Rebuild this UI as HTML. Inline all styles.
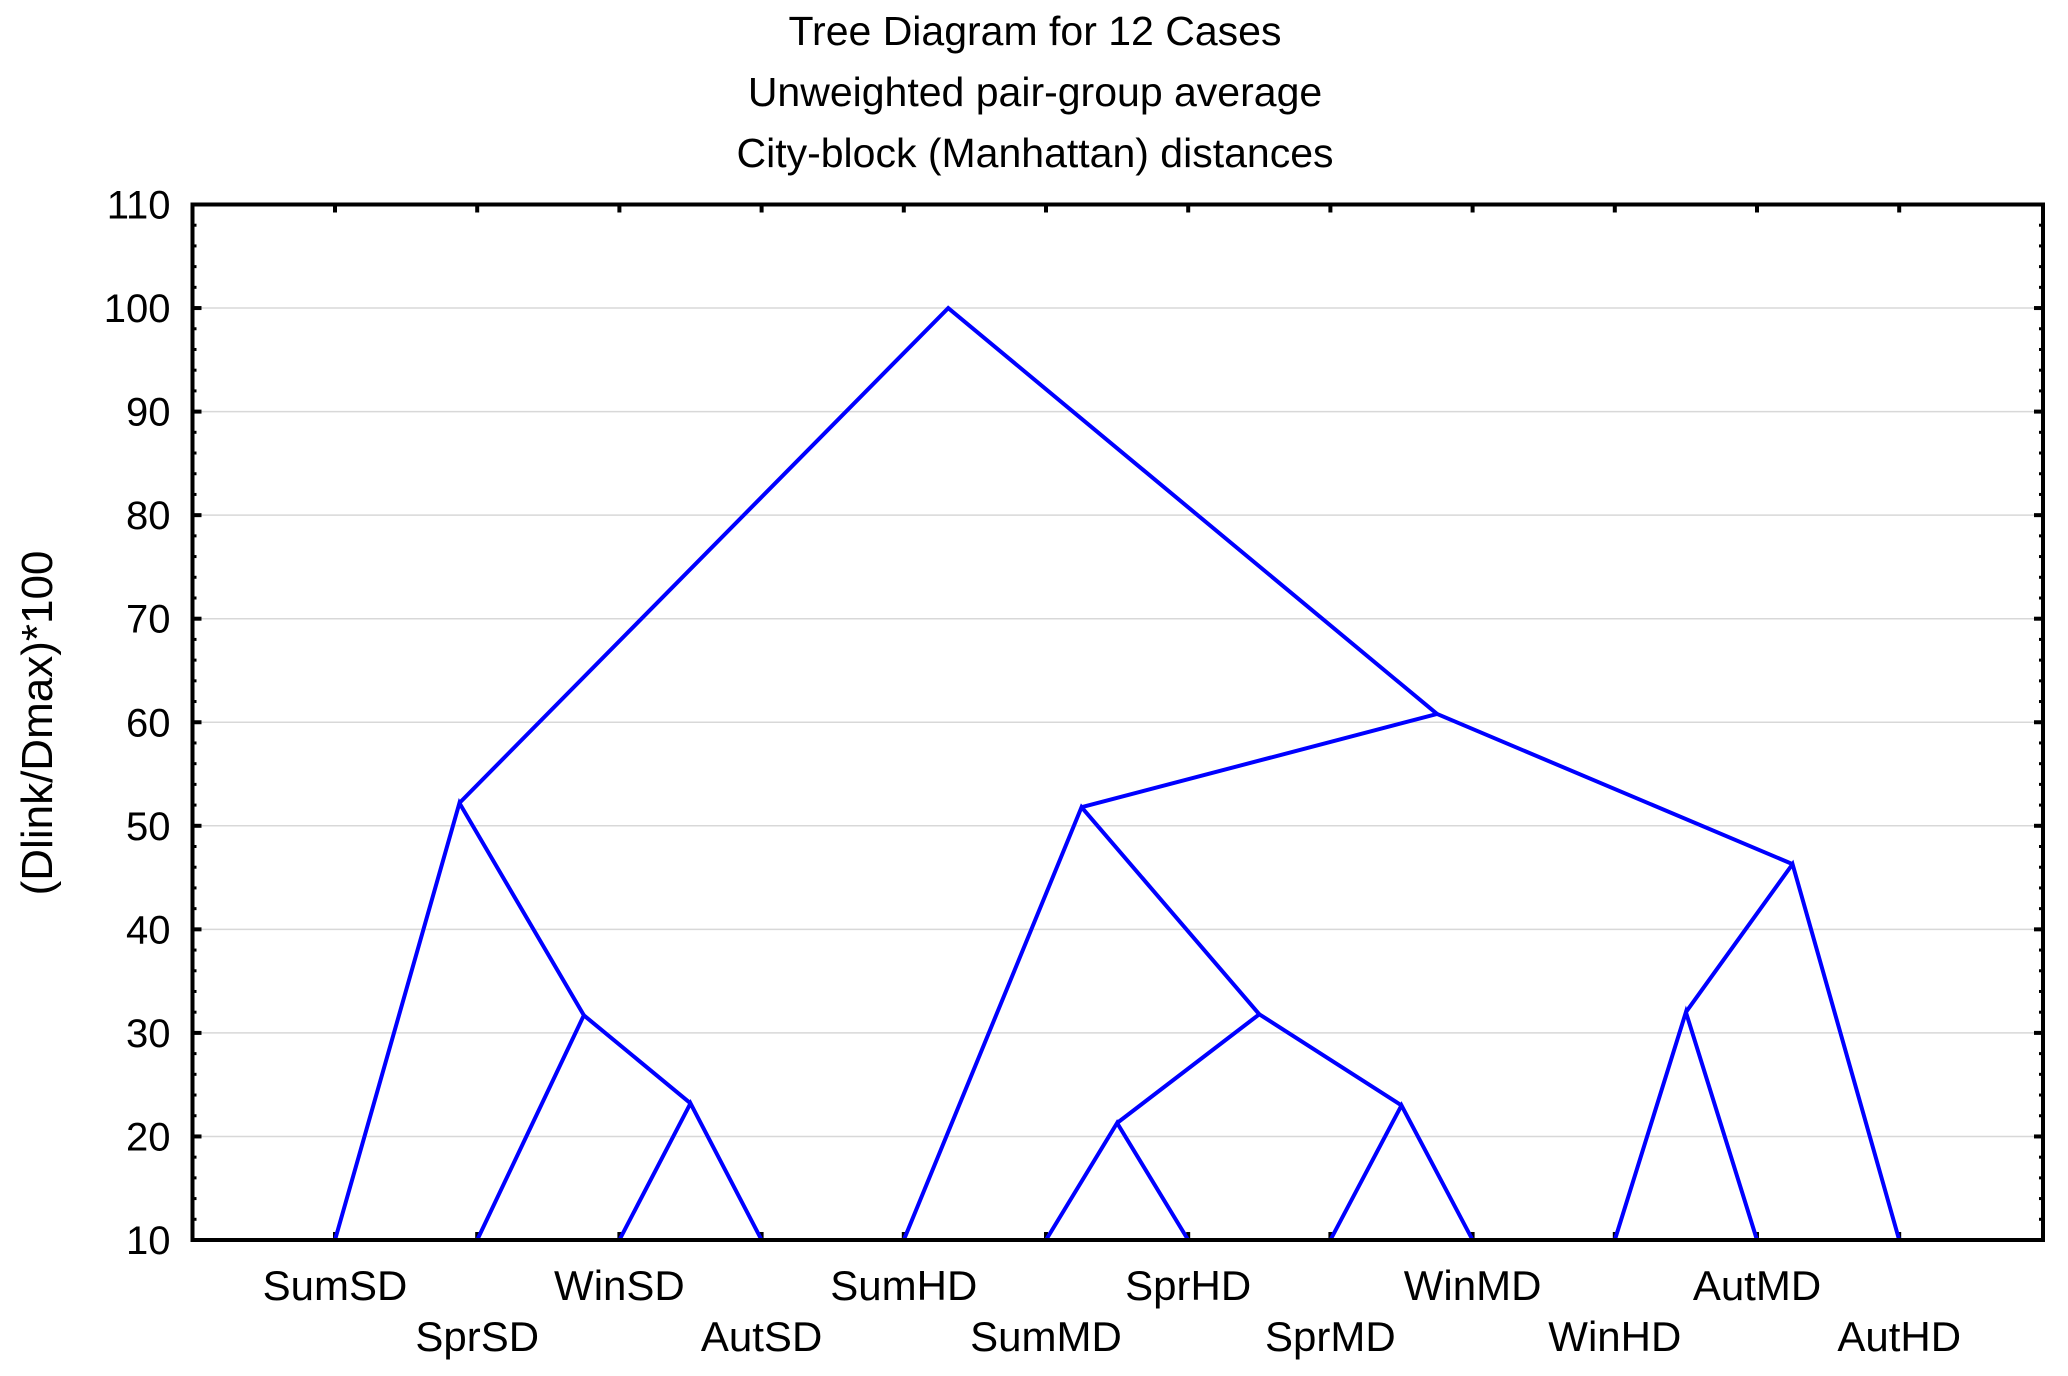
<!DOCTYPE html>
<html><head><meta charset="utf-8">
<style>
html,body{margin:0;padding:0;background:#fff;}
svg{display:block;font-family:"Liberation Sans",Arial,sans-serif;}
</style></head>
<body>
<svg id="chart" width="2068" height="1376" viewBox="0 0 2068 1376" xmlns="http://www.w3.org/2000/svg">
<rect x="0" y="0" width="2068" height="1376" fill="#fff"/>
<g font-size="41" text-anchor="middle" fill="#000">
<text x="1035" y="45">Tree Diagram for 12 Cases</text>
<text x="1035" y="106">Unweighted pair-group average</text>
<text x="1035" y="167">City-block (Manhattan) distances</text>
</g>
<text font-size="44" text-anchor="middle" transform="translate(52,723) rotate(-90)">(Dlink/Dmax)*100</text>
<g id="grid"></g>
<g id="ticks"></g>
<g id="links"></g>
<rect x="192.5" y="204.5" width="1850.5" height="1035.5" fill="none" stroke="#000" stroke-width="4"/>
<g id="labels"></g>
</svg>
<script>
const leafNames = ["SumSD","SprSD","WinSD","AutSD","SumHD","SumMD","SprHD","SprMD","WinMD","WinHD","AutMD","AutHD"];
const yTicks = [10,20,30,40,50,60,70,80,90,100,110];
// tree definition: [left, right, height], 'L#' leaf, 'N#' node
const nodeL=["L2","L1","L0","L5","L7","N3","L4","L9","N7","N6","N2"];
const nodeR=["L3","N0","N1","L6","L8","N4","N5","L10","L11","N8","N9"];
const nodeH=[23.2,31.7,52.2,21.3,23.0,31.8,51.8,32.0,46.3,60.8,100];
const ns="http://www.w3.org/2000/svg";
const X0=192.5,X1=2043,Y0=204.5,Y1=1240;
const xLeaf=i=>335+i*142.2;
const yS=v=>Y0+(110-v)*(Y1-Y0)/100;
const pos={};
function P(id){
  if(id[0]==='L'){const i=+id.slice(1);return [xLeaf(i),10];}
  const k=+id.slice(1);
  if(pos[k])return pos[k];
  const a=P(nodeL[k]),b=P(nodeR[k]);
  pos[k]=[(a[0]+b[0])/2,nodeH[k]];
  return pos[k];
}
const grid=document.getElementById('grid'),ticks=document.getElementById('ticks'),links=document.getElementById('links'),labels=document.getElementById('labels');
function mk(tag,attrs,parent){const e=document.createElementNS(ns,tag);for(const k in attrs)e.setAttribute(k,attrs[k]);parent.appendChild(e);return e;}
yTicks.forEach(v=>{
  const y=yS(v);
  if(v>10&&v<110){
    const g=mk('line',{x1:X0,x2:X1,y1:y,y2:y,stroke:'#d8d8d8','stroke-width':1.5},grid);
    
    
  }
  const t1=mk('line',{x1:X0,x2:X0+9,y1:y,y2:y,stroke:'#000','stroke-width':4},ticks);
  
  
  const t2=mk('line',{x1:X1-9,x2:X1,y1:y,y2:y,stroke:'#000','stroke-width':4},ticks);
  
  
  const lb=mk('text',{x:X0-22,y:y+14,'font-size':40,'text-anchor':'end'},labels);
  lb.textContent=v;
  
  
});
for(let v=12;v<110;v+=2){
  if(v%10===0)continue;
  const y=yS(v);
  [X0,X1-4].forEach((x,j)=>{
    const m=mk('line',{x1:x,x2:x+4,y1:y,y2:y,stroke:'#000','stroke-width':3},ticks);
    
    
  });
}
leafNames.forEach((n,i)=>{
  const x=xLeaf(i);
  const t=mk('line',{x1:x,x2:x,y1:Y1-8,y2:Y1,stroke:'#000','stroke-width':4},ticks);
  
  
  const t2=mk('line',{x1:x,x2:x,y1:Y0,y2:Y0+8,stroke:'#000','stroke-width':4},ticks);
  
  
  const lb=mk('text',{x:x,y:(i%2===0?1300:1351),'font-size':42,'text-anchor':'middle'},labels);
  lb.textContent=n;
  
  
});
nodeH.forEach((h,k)=>{
  const p=P('N'+k),a=P(nodeL[k]),b=P(nodeR[k]);
  const pl=mk('polyline',{points:`${a[0]},${yS(a[1])} ${p[0]},${yS(p[1])} ${b[0]},${yS(b[1])}`,fill:'none',stroke:'#0000ff','stroke-width':4,'stroke-linejoin':'miter'},links);
  
  
});
</script>
</body></html>
